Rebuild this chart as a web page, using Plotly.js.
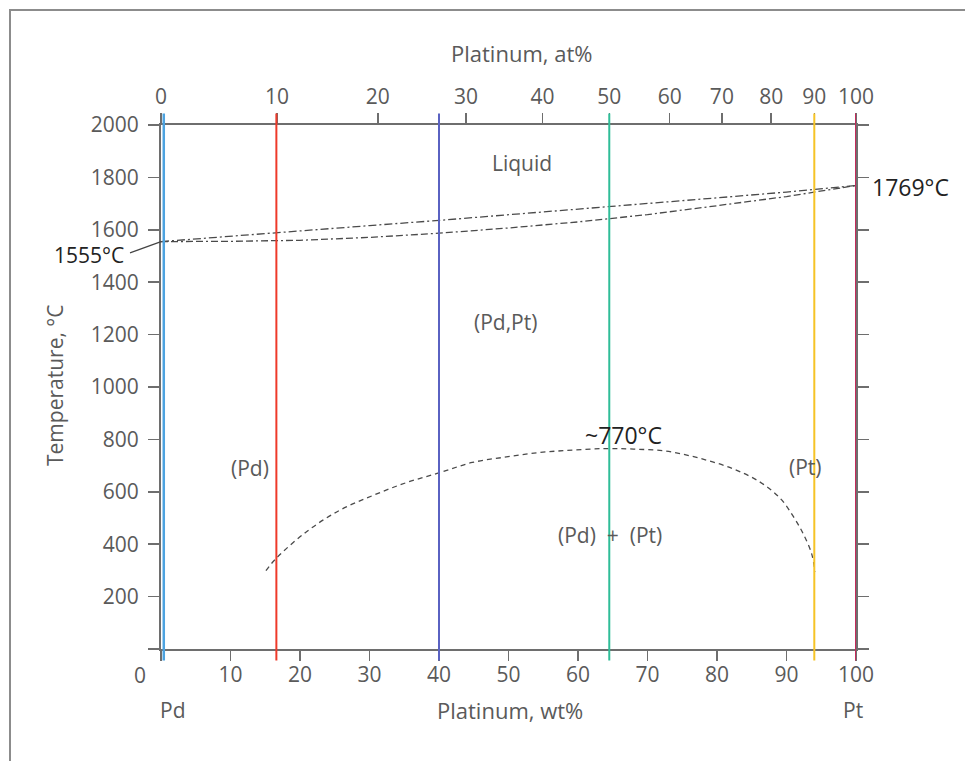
<!DOCTYPE html>
<html>
<head>
<meta charset="utf-8">
<script src="https://cdn.plot.ly/plotly-3.0.1.min.js"></script>
<style>
  html, body { margin: 0; padding: 0; background: #fff; }
  #wrap { position: relative; width: 965px; height: 761px; overflow: hidden; }
  #chart { position: absolute; left: 0; top: 0; width: 965px; height: 761px; }
  #frame { position: absolute; left: 9px; top: 9px; width: 1000px; height: 800px;
           border-left: 2px solid #8c8c8c; border-top: 2px solid #8c8c8c; pointer-events: none; }
</style>
</head>
<body>
<div id="wrap"><div id="chart"></div><div id="frame"></div></div>
<script>
// ---- Data ----
// Bottom axis: platinum, wt%
const wtTicks = [0, 10, 20, 30, 40, 50, 60, 70, 80, 90, 100];
const wtTickText = ['', '10', '20', '30', '40', '50', '60', '70', '80', '90', '100'];
// Top axis: platinum, at% (tick positions in wt%)
const atTickPos = [0, 16.7, 31.2, 43.9, 54.9, 64.5, 73.2, 80.7, 87.8, 94.0, 100];
const atTickText = ['0', '10', '20', '30', '40', '50', '60', '70', '80', '90', '100'];
// Temperature axis
const tempTicks = [0, 200, 400, 600, 800, 1000, 1200, 1400, 1600, 1800, 2000];
const tempTickText = ['', '200', '400', '600', '800', '1000', '1200', '1400', '1600', '1800', '2000'];

// Liquidus (upper) and solidus (lower)
const liquidusX = [0, 10, 20, 30, 40, 50, 60, 70, 80, 90, 100];
const liquidusY = [1555, 1576, 1596, 1616, 1636, 1657, 1678, 1700, 1722, 1744, 1769];
const solidusX  = [0, 10, 20, 30, 40, 50, 60, 70, 80, 90, 100];
const solidusY  = [1555, 1556, 1560, 1571, 1587, 1607, 1630, 1658, 1692, 1727, 1769];

// Miscibility gap (solvus)
const solvusX = [15.1, 16.5, 20.8, 25.6, 30.4, 35.3, 40.1, 44.8, 49.7, 54.5, 59.2, 64.0, 68.0, 72.7, 77.5, 82.3, 86.2, 89.1, 91.0, 92.4, 93.6, 94.1];
const solvusY = [299, 344, 445, 528, 585, 635, 673, 712, 733, 750, 759, 765, 763, 755, 728, 688, 637, 575, 505, 440, 365, 295];

// Alloy composition lines (wt% Pt)
const alloyX = [0.4, 16.6, 40.0, 64.5, 94.0, 100];
const alloyColors = ['#4da3e0', '#ee3a2a', '#5a62c2', '#2fbd98', '#f6c326', '#c52b5b'];

// Labels
const regionLabels = ['Liquid', '(Pd,Pt)', '(Pd)', '(Pt)', '(Pd)\u00a0 +\u00a0 (Pt)'];
const regionX = [52, 49.5, 12.8, 92.7, 64.6];
const regionY = [1855, 1247, 690, 693, 434];

// ---- Layout geometry ----
const W = 965, H = 761;
const L = 161, R = 109, T = 125, B = 112;
const plotW = W - L - R, plotH = H - T - B;
const px = x => (x - L) / plotW;           // pixel -> paper x
const py = y => (H - B - y) / plotH;       // pixel -> paper y

const FONT = 'Open Sans, Noto Sans, sans-serif';
const grey = '#5a5a5a';
const axisCol = '#6e6e6e';

const traces = [
  { x: liquidusX, y: liquidusY, xaxis: 'x2', yaxis: 'y', mode: 'lines', hoverinfo: 'skip',
    line: { color: '#4a4a4a', width: 1.3, dash: '8px,3px,2px,3px' } },
  { x: solidusX, y: solidusY, mode: 'lines', hoverinfo: 'skip',
    line: { color: '#4a4a4a', width: 1.3, dash: '7px,3px,7px,3px,2px,3px' } },
  { x: solvusX, y: solvusY, mode: 'lines', line: { color: '#4a4a4a', width: 1.3, dash: '5px,4px', shape: 'spline' },
    hoverinfo: 'skip' }
];

const shapes = alloyX.map((x, i) => ({
  type: 'line', xref: 'x', yref: 'paper', x0: x, x1: x, y0: -0.022, y1: 1.022,
  line: { color: alloyColors[i], width: i === 0 ? 2.5 : 2 }, layer: 'above'
}));
// leader line for 1555 °C
shapes.push({ type: 'line', xref: 'paper', yref: 'y', x0: px(130), x1: 0, y0: 1512, y1: liquidusY[0],
  line: { color: '#444', width: 1.2 } });

const ann = [];
function paperText(t, x, y, size, color, extra) {
  ann.push(Object.assign({ text: t, x: px(x), y: py(y), xref: 'paper', yref: 'paper', showarrow: false,
    xanchor: 'center', yanchor: 'middle', font: { family: FONT, size: size, color: color } }, extra || {}));
}
regionLabels.forEach((t, i) => ann.push({
  text: t, x: regionX[i], y: regionY[i], xref: 'x', yref: 'y', showarrow: false,
  xanchor: 'center', yanchor: 'middle',
  font: { family: FONT, size: 21, color: grey }
}));
ann.push({ text: '~770°C', x: 66.6, y: 816, xref: 'x', yref: 'y', showarrow: false,
  xanchor: 'center', yanchor: 'middle', font: { family: FONT, size: 23, color: '#222' } });
ann.push({ text: '1555°C', x: px(126), y: 1505, xref: 'paper', yref: 'y', xanchor: 'right', yanchor: 'middle',
  showarrow: false, font: { family: FONT, size: 21, color: '#222' } });
ann.push({ text: '1769°C', x: px(870), y: 1763, xref: 'paper', yref: 'y', xanchor: 'left', yanchor: 'middle',
  showarrow: false, font: { family: FONT, size: 23, color: '#222' } });
paperText('Platinum, at%', 521, 53, 22, grey);
paperText('Platinum, wt%', 510, 710, 22, grey);
paperText('Pd', 172, 710, 21, grey);
paperText('Pt', 853, 710, 21, grey);
paperText('0', 140, 675, 21, grey);
paperText('Temperature, °C', 55, 385, 21, grey, { textangle: -90 });

const axisCommon = {
  range: [0, 100], showgrid: false, zeroline: false, showline: true, linecolor: axisCol, linewidth: 2,
  ticks: 'outside', ticklen: 10, tickwidth: 1.5, tickcolor: axisCol, tickmode: 'array',
  tickfont: { family: FONT, size: 21, color: grey }, fixedrange: true
};

const layout = {
  width: W, height: H,
  margin: { l: L, r: R, t: T, b: B, pad: 0 },
  paper_bgcolor: '#fff', plot_bgcolor: '#fff',
  showlegend: false,
  xaxis: Object.assign({}, axisCommon, { tickvals: wtTicks, ticktext: wtTickText, ticklabelstandoff: -4 }),
  xaxis2: Object.assign({}, axisCommon, { overlaying: 'x', side: 'top', tickvals: atTickPos, ticktext: atTickText,
    ticklabelstandoff: 1 }),
  yaxis: {
    range: [0, 2000], showgrid: false, zeroline: false, showline: true, linecolor: axisCol, linewidth: 2,
    mirror: 'ticks', ticks: 'outside', ticklen: 11, tickwidth: 1.5, tickcolor: axisCol, tickmode: 'array',
    tickvals: tempTicks, ticktext: tempTickText, ticklabelstandoff: 5,
    tickfont: { family: FONT, size: 21, color: grey }, fixedrange: true
  },
  shapes: shapes,
  annotations: ann
};

Plotly.newPlot('chart', traces, layout, { displayModeBar: false, staticPlot: true });
</script>
</body>
</html>
